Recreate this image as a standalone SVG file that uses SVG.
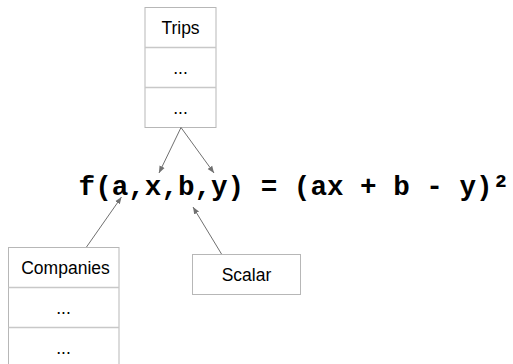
<svg xmlns="http://www.w3.org/2000/svg" width="513" height="364" viewBox="0 0 513 364">
<style>
.box{fill:#ffffff;stroke:#b7b7b7;stroke-width:1}
.div{stroke:#c8c8c8;stroke-width:1.5}
.lbl{font-family:"Liberation Sans",Arial,sans-serif;font-size:17.5px;fill:#000;text-anchor:middle}
.conn{stroke:#707070;stroke-width:1;fill:none;marker-end:url(#ah)}
.formula{font-family:"Liberation Mono","Courier New",monospace;font-weight:bold;font-size:27.6px;fill:#000}
</style>
<defs>
<marker id="ah" markerWidth="8" markerHeight="8" refX="7" refY="4" orient="auto" markerUnits="userSpaceOnUse">
<path d="M0,1.2 L7,4 L0,6.8 Z" fill="#707070"/>
</marker>
</defs>
<rect width="513" height="364" fill="#ffffff"/>
<g id="trips">
<rect class="box" x="145" y="7.5" width="71" height="120"/>
<line class="div" x1="145" y1="47.5" x2="216" y2="47.5"/>
<line class="div" x1="145" y1="87.5" x2="216" y2="87.5"/>
<text class="lbl" x="180.5" y="33.5">Trips</text>
<text class="lbl" x="180.5" y="73.5">...</text>
<text class="lbl" x="180.5" y="113.5">...</text>
</g>
<g id="companies">
<rect class="box" x="8.5" y="247.5" width="110.5" height="120"/>
<line class="div" x1="8.5" y1="287.5" x2="119" y2="287.5"/>
<line class="div" x1="8.5" y1="327.5" x2="119" y2="327.5"/>
<text class="lbl" x="65.5" y="273.5">Companies</text>
<text class="lbl" x="63.5" y="313.5">...</text>
<text class="lbl" x="63.5" y="353.5">...</text>
</g>
<g id="scalar">
<rect class="box" x="192.5" y="254.5" width="108" height="40"/>
<text class="lbl" x="246.5" y="280.5">Scalar</text>
</g>
<g id="formula">
<text class="formula" x="78.6" y="194.5" xml:space="preserve">f(a,x,b,y) = (ax + b - y)²</text>
</g>
<g id="connectors">
<line class="conn" x1="181" y1="127.5" x2="159" y2="173"/>
<line class="conn" x1="181" y1="127.5" x2="214" y2="173"/>
<line class="conn" x1="86.5" y1="247" x2="121.5" y2="197"/>
<line class="conn" x1="221.5" y1="254" x2="193" y2="207"/>
</g>
</svg>
